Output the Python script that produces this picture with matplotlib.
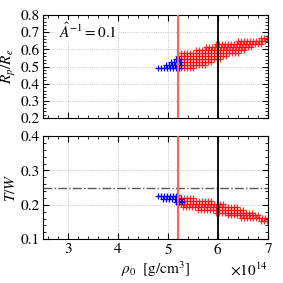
import numpy as np
import matplotlib
matplotlib.use('Agg')
import matplotlib.pyplot as plt
from matplotlib.ticker import MultipleLocator, ScalarFormatter

plt.rcParams['font.family'] = 'STIXGeneral'
plt.rcParams['mathtext.fontset'] = 'stix'
plt.rcParams['font.size'] = 11

# rows of the (rho_0, Rp/Re) sweep: row value and rho_0 range (units of 1e14)
rp_rows = [0.49, 0.5075, 0.525, 0.5425, 0.56, 0.5775, 0.595, 0.6125, 0.63, 0.6475, 0.665]
rp_red_lo = [5.2, 5.2, 5.2, 5.2, 5.2, 5.25, 5.55, 5.75, 5.95, 6.4, 6.85]
rp_red_hi = [5.55, 5.75, 5.9, 6.05, 6.2, 6.4, 6.55, 6.7, 6.85, 7.0, 7.0]
rp_blue_rows = [0.49, 0.5075, 0.525, 0.5425]
rp_blue_lo = [4.8, 4.95, 5.05, 5.15]
rp_blue_hi = [5.25, 5.25, 5.25, 5.25]

# rows of the (rho_0, T/W) sweep
tw_rows = [0.2285, 0.22, 0.2115, 0.203, 0.1945, 0.186, 0.1775, 0.169, 0.1605, 0.152]
tw_red_lo = [5.2, 5.2, 5.2, 5.2, 5.3, 5.6, 5.95, 6.2, 6.45, 6.85]
tw_red_hi = [5.25, 5.55, 5.9, 6.15, 6.4, 6.55, 6.7, 6.85, 7.0, 7.0]
tw_blue_rows = [0.2245, 0.216, 0.2075]
tw_blue_lo = [4.8, 4.9, 5.15]
tw_blue_hi = [5.2, 5.3, 5.3]

rho_step = 0.06
rho_red_line = 5.2
rho_black_line = 6.0
tw_crit = 0.25


def lattice(rows, lo, hi):
    xs, ys = [], []
    for y, a, b in zip(rows, lo, hi):
        x = np.arange(a, b + 1e-6, rho_step)
        xs.extend(x)
        ys.extend([y] * len(x))
    return np.array(xs) * 1e14, np.array(ys)


fig = plt.figure(figsize=(2.83, 2.83), dpi=100)
ax1 = fig.add_axes([0.152, 0.583, 0.795, 0.364])
ax2 = fig.add_axes([0.152, 0.155, 0.795, 0.364])

for ax in (ax1, ax2):
    ax.set_xlim(2.5e14, 7.0e14)
    ax.xaxis.set_major_locator(MultipleLocator(1e14))
    ax.xaxis.set_minor_locator(MultipleLocator(0.2e14))
    ax.yaxis.set_major_locator(MultipleLocator(0.1))
    ax.yaxis.set_minor_locator(MultipleLocator(0.02))
    ax.tick_params(which='both', direction='in', top=True, right=True)
    ax.tick_params(which='major', length=4, width=0.8, pad=2)
    ax.tick_params(which='minor', length=2, width=0.6)
    ax.grid(True, which='major', ls=':', color='0.7', lw=0.6)
    ax.axvline(rho_red_line * 1e14, color='#ff6060', lw=1.5, zorder=4)
    ax.axvline(rho_black_line * 1e14, color='k', lw=1.3, zorder=4)
    fmt = ScalarFormatter(useMathText=True)
    ax.xaxis.set_major_formatter(fmt)

# top panel
x, y = lattice(rp_rows, rp_red_lo, rp_red_hi)
ax1.plot(x, y, '+', color='red', ms=4, mew=0.9, alpha=0.8, zorder=2)
x, y = lattice(rp_blue_rows, rp_blue_lo, rp_blue_hi)
ax1.plot(x, y, '+', color='blue', ms=4, mew=0.9, zorder=3)
ax1.set_ylim(0.2, 0.8)
ax1.set_ylabel(r'$R_p/R_e$', labelpad=2)
ax1.tick_params(labelbottom=False)
ax1.xaxis.get_offset_text().set_visible(False)
ax1.text(0.07, 0.845, r'$\hat{A}^{-1}=0.1$', transform=ax1.transAxes,
         va='center', ha='left', bbox=dict(fc='white', ec='none', pad=1))

# bottom panel
x, y = lattice(tw_rows, tw_red_lo, tw_red_hi)
ax2.plot(x, y, '+', color='red', ms=4, mew=0.9, alpha=0.8, zorder=2)
x, y = lattice(tw_blue_rows, tw_blue_lo, tw_blue_hi)
ax2.plot(x, y, '+', color='blue', ms=4, mew=0.9, zorder=3)
ax2.axhline(tw_crit, color='0.35', ls='-.', lw=1.0)
ax2.set_ylim(0.1, 0.4)
ax2.set_ylabel(r'$T/W$', labelpad=2)
ax2.set_xlabel(r'$\rho_0\ \ [\mathrm{g/cm^3}]$', labelpad=2)

fig.savefig('out.png', dpi=100)
